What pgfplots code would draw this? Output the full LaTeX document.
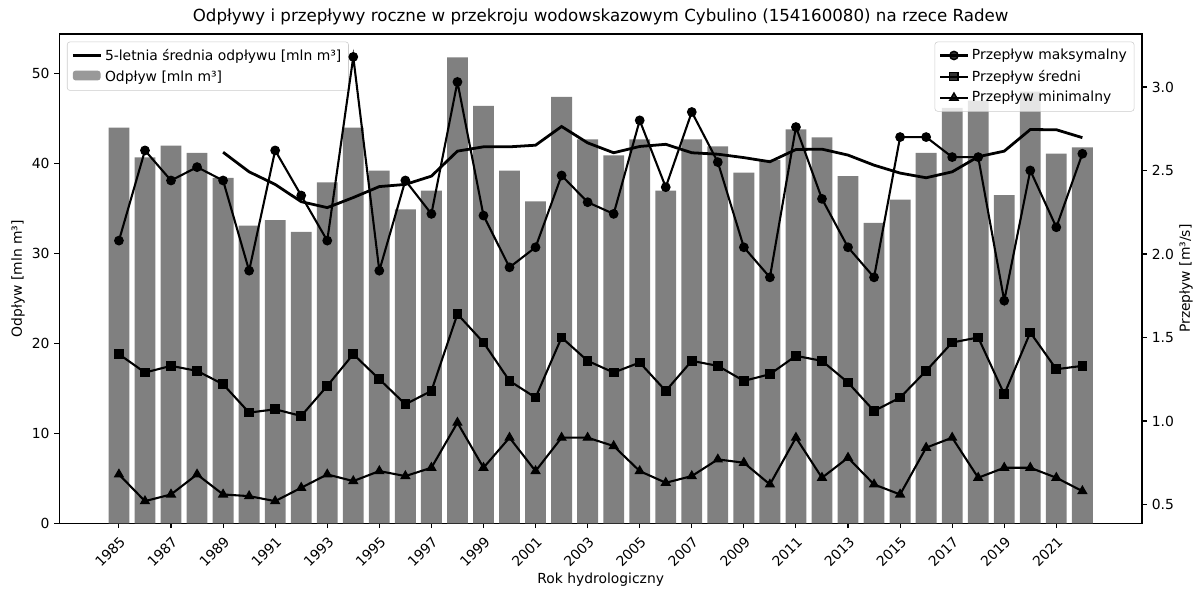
\documentclass[border=0pt]{standalone}
\usepackage{fontspec}
\setmainfont{DejaVu Sans}
\usepackage{pgfplots}
\usepackage{pgfplotstable}
\pgfplotsset{compat=1.18}

% rok, odplyw [mln m3], 5-letnia srednia, Qmax, Qsr, Qmin [m3/s]
\pgfplotstableread{
year odp  s5    qmax qsr  qmin
1985 44.0 nan   2.08 1.40 0.68
1986 40.7 nan   2.62 1.29 0.52
1987 42.0 nan   2.44 1.33 0.56
1988 41.2 nan   2.52 1.30 0.68
1989 38.4 41.26 2.44 1.22 0.56
1990 33.1 39.08 1.90 1.05 0.55
1991 33.7 37.68 2.62 1.07 0.52
1992 32.4 35.76 2.35 1.03 0.60
1993 37.9 35.10 2.08 1.21 0.68
1994 44.0 36.22 3.18 1.40 0.64
1995 39.2 37.44 1.90 1.25 0.70
1996 34.9 37.68 2.44 1.10 0.67
1997 37.0 38.60 2.24 1.18 0.72
1998 51.8 41.38 3.03 1.64 0.99
1999 46.4 41.86 2.23 1.47 0.72
2000 39.2 41.86 1.92 1.24 0.90
2001 35.8 42.04 2.04 1.14 0.70
2002 47.4 44.12 2.47 1.50 0.90
2003 42.7 42.30 2.31 1.36 0.90
2004 40.9 41.20 2.24 1.29 0.85
2005 42.7 41.90 2.80 1.35 0.70
2006 37.0 42.14 2.40 1.18 0.63
2007 42.7 41.20 2.85 1.36 0.67
2008 41.9 41.04 2.55 1.33 0.77
2009 39.0 40.66 2.04 1.24 0.75
2010 40.4 40.20 1.86 1.28 0.62
2011 43.8 41.56 2.76 1.39 0.90
2012 42.9 41.60 2.33 1.36 0.66
2013 38.6 40.94 2.04 1.23 0.78
2014 33.4 39.82 1.86 1.06 0.62
2015 36.0 38.94 2.70 1.14 0.56
2016 41.2 38.42 2.70 1.30 0.84
2017 46.2 39.08 2.58 1.47 0.90
2018 47.0 40.76 2.58 1.50 0.66
2019 36.5 41.38 1.72 1.16 0.72
2020 48.0 43.78 2.50 1.53 0.72
2021 41.1 43.76 2.16 1.31 0.66
2022 41.8 42.88 2.60 1.33 0.58
}\data

\pgfplotsset{
  base/.style={
    width=779.5pt, height=352.3pt, scale only axis,
    at={(0,0)}, anchor=south west,
    xmin=1982.71, xmax=2024.29,
    /pgf/number format/assume math mode=true,
    tick label style={font=\fontsize{10}{12}\selectfont},
    label style={font=\fontsize{10}{12}\selectfont},
    tick align=outside, major tick length=3.5pt,
    every tick/.style={black, line width=0.8pt},
    axis line style={line width=0.8pt},
    legend cell align=left,
    legend style={font=\fontsize{10}{12}\selectfont, draw=black!20, rounded corners=2pt,
      fill=white, fill opacity=0.8, text opacity=1, draw opacity=1,
      inner xsep=3pt, inner ysep=3pt, row sep=1.5pt, nodes={inner sep=2.2pt}},
  },
  lin/.style={black, line width=1.5pt, mark options={solid, line width=1pt},
    legend image code/.code={\draw[mark repeat=2,mark phase=2,##1] plot coordinates {(0pt,0pt) (10pt,0pt) (20pt,0pt)};}},
}

\begin{document}
\begin{tikzpicture}
\useasboundingbox (-42.7pt,-46.6pt) rectangle (818.4pt,376.8pt);

\begin{axis}[base,
  ymin=0, ymax=54.4,
  ytick={0,10,...,50},
  xtick={1985,1987,...,2021},
  xtick pos=left, ytick pos=left,
  x tick label style={/pgf/number format/1000 sep={}, rotate=45, anchor=north east, inner sep=3.5pt},
  title={Odpływy i przepływy roczne w przekroju wodowskazowym Cybulino (154160080) na rzece Radew},
  title style={font=\fontsize{12}{14}\selectfont, at={(0.5,1)}, anchor=base, yshift=2.8pt},
  xlabel={Rok hydrologiczny},
  xlabel style={at={(axis description cs:0.5,0)}, anchor=base, yshift=-43pt},
  ylabel={Odpływ [mln m³]},
  ylabel style={at={(axis description cs:-0.0381,0.5)}, anchor=center},
  legend style={at={(0,1)}, anchor=north west, xshift=5.5pt, yshift=-5.5pt},
  reverse legend,
]
\addplot[ybar, bar width=0.8, bar shift=0pt, fill=gray, draw=none,
  legend image code/.code={\fill[gray] (0pt,-0.25em) rectangle (20pt,0.45em);}]
  table[x=year, y=odp] {\data};
\addlegendentry{Odpływ [mln m³]}
\addplot[black, line width=2pt, no marks,
  legend image code/.code={\draw[black, line width=2pt] (0pt,0pt) -- (20pt,0pt);}]
  table[x=year, y=s5] {\data};
\addlegendentry{5-letnia średnia odpływu [mln m³]}
\end{axis}

\begin{axis}[base,
  ymin=0.387, ymax=3.317,
  ytick={0.5,1.0,...,3.0},
  axis x line=none, axis y line*=right,
  y tick label style={/pgf/number format/.cd, fixed, fixed zerofill, precision=1},
  ylabel={Przepływ [m³/s]},
  ylabel style={at={(axis description cs:1.0407,0.5)}, anchor=center, rotate=0},
  legend style={at={(1,1)}, anchor=north east, xshift=-5.5pt, yshift=-5.5pt},
]
\addplot[lin, mark=*, mark size=3pt] table[x=year, y=qmax] {\data};
\addlegendentry{Przepływ maksymalny}
\addplot[lin, mark=square*, mark size=3pt] table[x=year, y=qsr] {\data};
\addlegendentry{Przepływ średni}
\addplot[lin, mark=triangle*, mark size=3.4pt] table[x=year, y=qmin] {\data};
\addlegendentry{Przepływ minimalny}
\end{axis}
\end{tikzpicture}
\end{document}
